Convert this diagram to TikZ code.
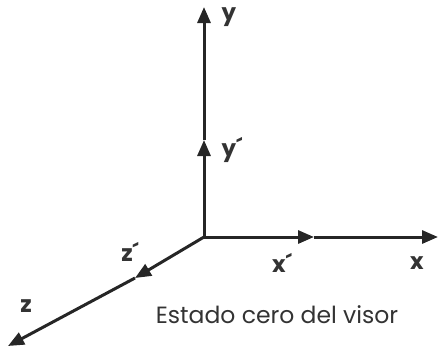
\documentclass[tikz,border=0pt]{standalone}
\usepackage{fontspec}
\setmainfont{Poppins}
\usetikzlibrary{arrows.meta,positioning,calc}

\begin{document}
\begin{tikzpicture}[
    x=1pt, y=-1pt,
    axis/.style={-{Triangle[length=16pt, width=13pt]}, line width=3pt, draw=black!85},
    label/.style={font=\fontsize{23}{23}\selectfont\bfseries, text=black!80, inner sep=0pt},
    caption/.style={font=\fontsize{23.5}{23.5}\selectfont, text=black!80, inner sep=0pt}
]
    \useasboundingbox (0, 0) rectangle (438, 349);

    % Origin and axis points
    \coordinate (O) at (204, 237);
    \coordinate (Yp) at (204, 140);
    \coordinate (Y) at (204, 7);
    \coordinate (Xp) at (314, 237);
    \coordinate (X) at (438, 237);
    \coordinate (Zp) at (135, 278);
    \coordinate (Z) at (8, 346);

    % Axes
    \draw[axis] (O) -- (Yp);
    \draw[axis] (Yp) -- (Y);
    \draw[axis] (O) -- (Xp);
    \draw[axis] (Xp) -- (X);
    \draw[axis] (O) -- (Zp);
    \draw[axis] (Zp) -- (Z);

    % Labels
    \node[label] (ly) at (229, 17) {y};
    \node[label] (lyp) at (232, 150) {y´};
    \node[label] (lx) at (417, 263) {x};
    \node[label] (lxp) at (282, 263) {x´};
    \node[label] (lzp) at (130, 252) {z´};
    \node[label] (lz) at (26, 306) {z};

    % Caption
    \node[caption] (cap) at (277, 315) {Estado cero del visor};
\end{tikzpicture}
\end{document}
